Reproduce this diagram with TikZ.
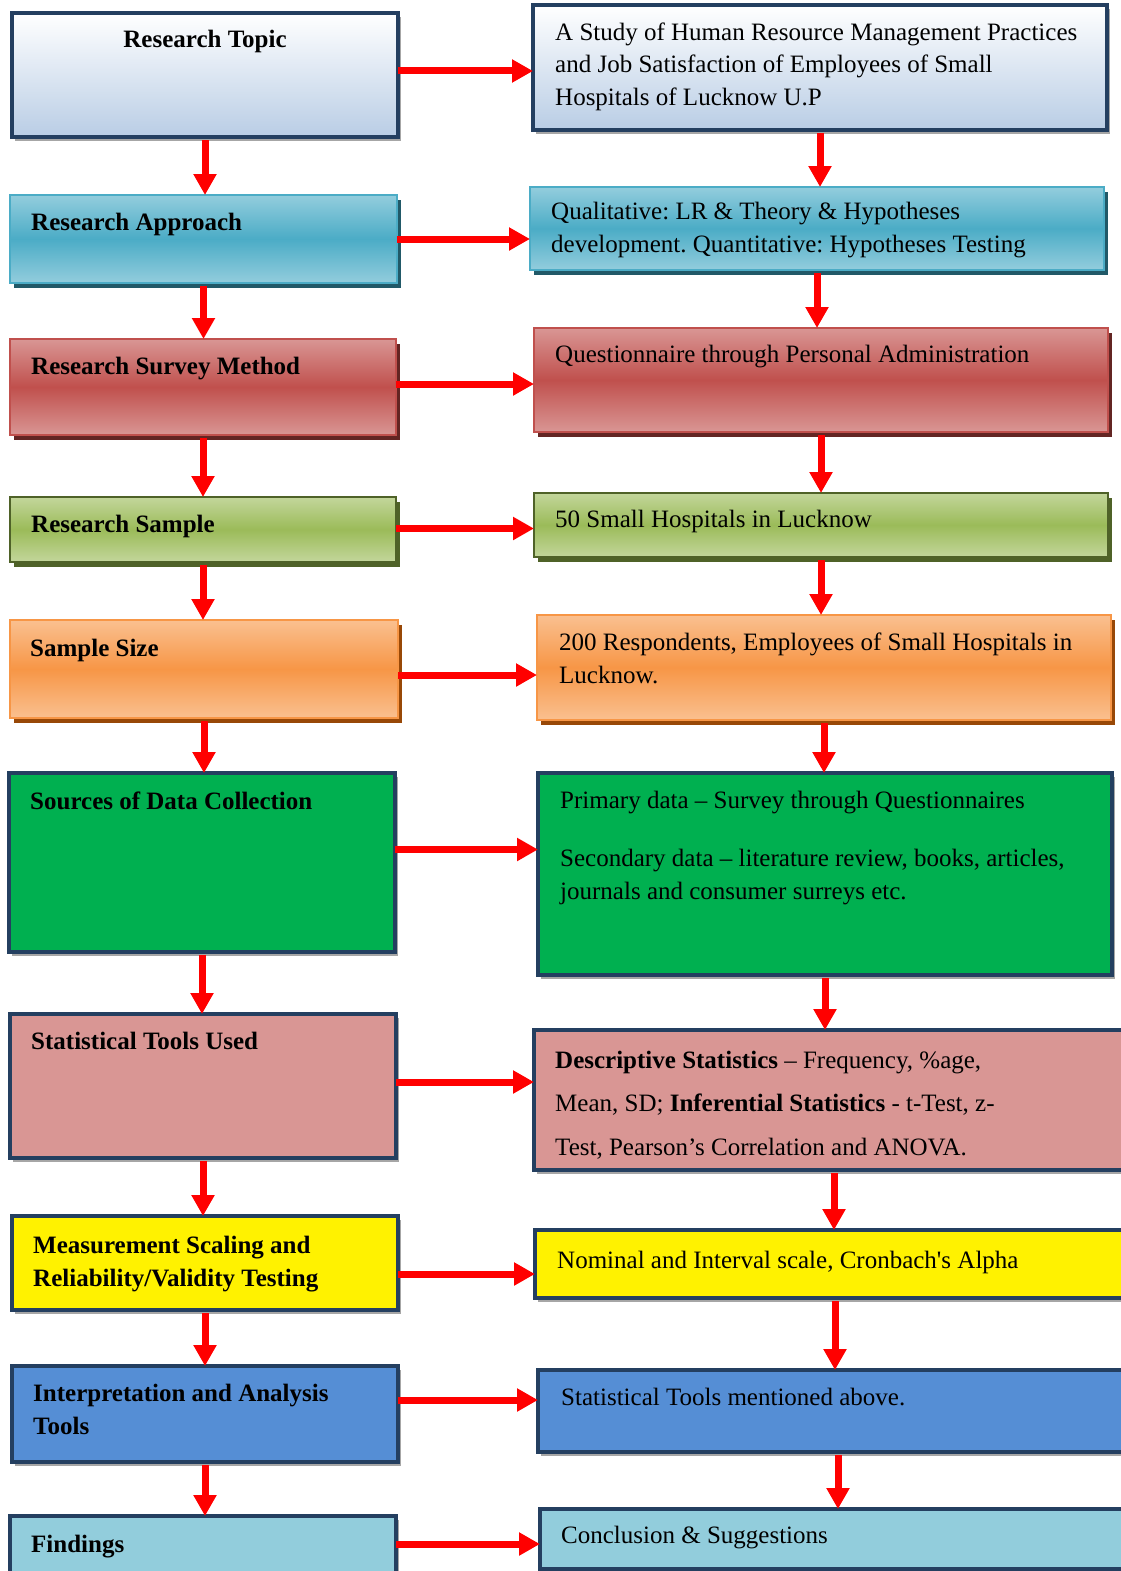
\documentclass[tikz,border=0pt]{standalone}
\usepackage{fontspec}
\setmainfont{Liberation Serif}
\usetikzlibrary{arrows.meta,shadows}
\frenchspacing
\definecolor{navyc}{HTML}{243F60}
\definecolor{topb}{HTML}{B9CDE5}
\definecolor{tealL}{HTML}{93CDDD}
\definecolor{tealM}{HTML}{4BACC6}
\definecolor{tealD}{HTML}{215968}
\definecolor{redL}{HTML}{D99694}
\definecolor{redM}{HTML}{C0504D}
\definecolor{redD}{HTML}{632523}
\definecolor{grnL}{HTML}{C3D69B}
\definecolor{grnM}{HTML}{9BBB59}
\definecolor{grnD}{HTML}{4F6228}
\definecolor{orL}{HTML}{FAC090}
\definecolor{orM}{HTML}{F79646}
\definecolor{orD}{HTML}{984807}
\definecolor{green6}{HTML}{00B050}
\definecolor{pink7}{HTML}{D99694}
\definecolor{blue9}{HTML}{558ED5}
\definecolor{cyan10}{HTML}{92CDDC}
\tikzset{
  bx/.style={inner sep=0pt, outer sep=0pt, anchor=north west},
  navybox/.style={draw=navyc, line width=3.5pt, fill=#1,
    general shadow={fill=black!35, shadow xshift=3pt, shadow yshift=-4pt}},
  gradbox/.style n args={4}{draw=#1, line width=2.5pt, top color=#2, bottom color=#2, middle color=#3,
    general shadow={fill=#4, shadow xshift=4pt, shadow yshift=-5pt}},
  lt/.style={font=\bfseries\fontsize{25}{33}\selectfont\frenchspacing, inner sep=0pt, anchor=base west, align=left},
  rt/.style={font=\fontsize{25}{32.5}\selectfont\frenchspacing, inner sep=0pt, anchor=base west, align=left},
  redarr/.style={draw=red, line width=7pt, -{Triangle[width=22pt,length=21pt]}},
}
\begin{document}
\begin{tikzpicture}[x=1pt,y=-1pt]
\useasboundingbox (0,0) rectangle (1121,1571);
% left column
\node[bx, draw=navyc, line width=3.5pt, top color=white, bottom color=topb,
  general shadow={fill=black!35, shadow xshift=3pt, shadow yshift=-4pt},
  minimum width=386pt, minimum height=124pt] (L1) at (12,13) {};
\node[bx, gradbox={tealM}{tealL}{tealM}{tealD}, minimum width=387pt, minimum height=88pt] (L2) at (10,195) {};
\node[bx, gradbox={redM}{redL}{redM}{redD}, minimum width=386pt, minimum height=96pt] (L3) at (10,339) {};
\node[bx, gradbox={grnD}{grnL}{grnM}{grnD}, minimum width=386pt, minimum height=65pt] (L4) at (10,497) {};
\node[bx, gradbox={orM}{orL}{orM}{orD}, minimum width=388pt, minimum height=98pt] (L5) at (10,620) {};
\node[bx, navybox=green6, minimum width=386pt, minimum height=179pt] (L6) at (9,773) {};
\node[bx, navybox=pink7, minimum width=386pt, minimum height=144pt] (L7) at (10,1014) {};
\node[bx, navybox=yellow, minimum width=386pt, minimum height=94pt] (L8) at (12,1216) {};
\node[bx, navybox=blue9, minimum width=386pt, minimum height=96pt] (L9) at (12,1366) {};
\node[bx, navybox=cyan10, minimum width=386pt, minimum height=70pt] (L10) at (10,1516) {};
% right column
\node[bx, draw=navyc, line width=3.5pt, top color=white, bottom color=topb,
  general shadow={fill=black!35, shadow xshift=3pt, shadow yshift=-4pt},
  minimum width=574pt, minimum height=125pt] (R1) at (533,5) {};
\node[bx, gradbox={tealM}{tealL}{tealM}{tealD}, minimum width=574pt, minimum height=83pt] (R2) at (530,187) {};
\node[bx, gradbox={redM}{redL}{redM}{redD}, minimum width=574pt, minimum height=104pt] (R3) at (534,328) {};
\node[bx, gradbox={grnD}{grnL}{grnM}{grnD}, minimum width=574pt, minimum height=64pt] (R4) at (534,493) {};
\node[bx, gradbox={orM}{orL}{orM}{orD}, minimum width=574pt, minimum height=105pt] (R5) at (537,615) {};
\node[bx, navybox=green6, minimum width=574pt, minimum height=202pt] (R6) at (538,773) {};
\node[bx, navybox=pink7, minimum width=600pt, minimum height=140pt] (R7) at (534,1030) {};
\node[bx, navybox=yellow, minimum width=600pt, minimum height=68pt] (R8) at (535,1230) {};
\node[bx, navybox=blue9, minimum width=600pt, minimum height=82pt] (R9) at (538,1370) {};
\node[bx, navybox=cyan10, minimum width=600pt, minimum height=60pt] (R10) at (540,1509) {};
% left texts (base anchor = baseline of last line)
\node[lt, anchor=base] (L1t) at (205,48) {Research Topic};
\node[lt] (L2t) at (31,230) {Research Approach};
\node[lt] (L3t) at (31,374) {Research Survey Method};
\node[lt] (L4t) at (31,532) {Research Sample};
\node[lt] (L5t) at (30,656) {Sample Size};
\node[lt] (L6t) at (30,809) {Sources of Data Collection};
\node[lt] (L7t) at (31,1049) {Statistical Tools Used};
\node[lt] (L8t) at (33,1286) {Measurement Scaling and\\Reliability/Validity Testing};
\node[lt] (L9t) at (33,1434) {Interpretation and Analysis\\Tools};
\node[lt] (L10t) at (31,1552) {Findings};
% right texts
\node[rt] (R1t) at (555,105) {A Study of Human Resource Management Practices\\and Job Satisfaction of Employees of Small\\Hospitals of Lucknow U.P};
\node[rt] (R2t) at (551,252) {Qualitative: LR \& Theory \& Hypotheses\\development. Quantitative: Hypotheses Testing};
\node[rt] (R3t) at (555,362) {Questionnaire through Personal Administration};
\node[rt] (R4t) at (555,527) {50 Small Hospitals in Lucknow};
\node[rt] (R5t) at (559,683) {200 Respondents, Employees of Small Hospitals in\\Lucknow.};
\node[rt] (R6t) at (560,899) {Primary data -- Survey through Questionnaires\\[25.5pt]Secondary data -- literature review, books, articles,\\journals and consumer surreys etc.};
\node[rt] (R7t) at (555,1155) {\textbf{Descriptive Statistics} -- Frequency, \%age,\\[11pt]Mean, SD; \textbf{Inferential Statistics} - t-Test, z-\\[11pt]Test, Pearson’s Correlation and ANOVA.};
\node[rt] (R8t) at (557,1268) {Nominal and Interval scale, Cronbach\textquotesingle s Alpha};
\node[rt] (R9t) at (561,1405) {Statistical Tools mentioned above.};
\node[rt] (R10t) at (561,1543) {Conclusion \& Suggestions};
% horizontal arrows
\coordinate (h1) at ([yshift=4pt]L1.east);
\coordinate (h2) at (L2.east);
\coordinate (h3) at ([yshift=3pt]L3.east);
\coordinate (h4) at ([yshift=1pt]L4.east);
\coordinate (h5) at ([yshift=-6pt]L5.east);
\coordinate (h6) at ([yshift=13pt]L6.east);
\coordinate (h7) at ([yshift=4pt]L7.east);
\coordinate (h8) at ([yshift=-11pt]L8.east);
\coordinate (h9) at ([yshift=14pt]L9.east);
\coordinate (h10) at ([yshift=7pt]L10.east);
\foreach \i in {1,...,10}{
  \draw[redarr] (h\i) -- (h\i -| R\i.west);
}
% vertical arrows
\foreach \i/\j in {1/2,2/3,3/4,4/5,5/6,6/7,7/8,8/9,9/10}{
  \draw[redarr] ([yshift=-3pt]L\i.south) -- (L\i.south |- L\j.north);
  \draw[redarr] ([yshift=-3pt]R\i.south) -- (R\i.south |- R\j.north);
}
\end{tikzpicture}
\end{document}
